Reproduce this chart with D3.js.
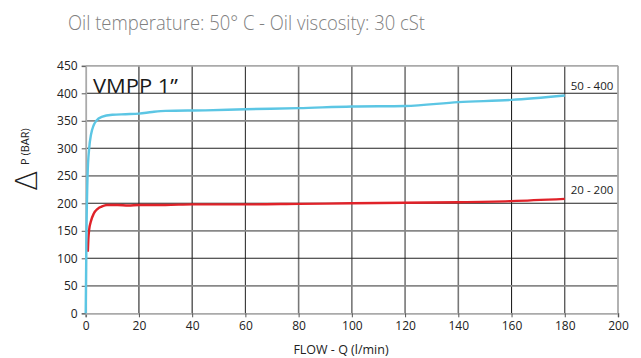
<!DOCTYPE html>
<html>
<head>
<meta charset="utf-8">
<script src="https://cdn.jsdelivr.net/npm/d3@7"></script>
<style>
  html, body { margin: 0; padding: 0; background: #fff; }
  svg { display: block; font-family: "Open Sans", "DejaVu Sans", sans-serif; }
</style>
</head>
<body>
<svg id="chart" width="641" height="358"></svg>
<script>
// Pressure drop vs flow, VMPP 1" relief valve
const xTicks = [0, 20, 40, 60, 80, 100, 120, 140, 160, 180, 200];
const yTicks = [0, 50, 100, 150, 200, 250, 300, 350, 400, 450];

// Spring range 50 - 400 bar
const flow400 = [0, 0.3, 0.7, 1.3, 2, 3, 4, 6, 10, 15, 20, 25, 30, 45, 60, 80, 100, 120, 140, 160, 180];
const dp400   = [0, 150, 250, 300, 325, 342, 350, 357, 361, 362, 363, 366, 368, 369, 371, 373, 376, 377, 384, 388, 396];

// Spring range 20 - 200 bar
const flow200 = [0.8, 1.0, 1.3, 2, 3, 4.5, 6, 8, 12, 16, 20, 30, 40, 60, 80, 100, 120, 140, 160, 180];
const dp200   = [112, 135, 152, 168, 181, 190, 194, 197, 197, 196, 197, 197, 198, 198, 199, 200, 201, 202, 204, 208];

const seriesLabels = ["50 - 400", "20 - 200"];

const svg = d3.select("#chart");
const plotLeft = 85.7, plotRight = 618, plotTop = 65.8, plotBottom = 313.3;

const x = d3.scaleLinear().domain([0, 200]).range([plotLeft, plotRight]);
const y = d3.scaleLinear().domain([0, 450]).range([plotBottom, plotTop]);

// Grid: alternating dark and grey rules as in the printed chart
const vColor = { 20: "#222", 40: "#222", 60: "#333", 80: "#777", 100: "#777", 120: "#777", 140: "#777", 160: "#222", 180: "#333" };
svg.append("g").selectAll("line")
  .data(xTicks.filter(d => d > 0 && d < 200))
  .join("line")
  .attr("x1", d => x(d)).attr("x2", d => x(d))
  .attr("y1", plotTop).attr("y2", plotBottom)
  .attr("stroke", d => vColor[d])
  .attr("stroke-width", d => vColor[d] === "#777" ? 1.6 : 1.1);

svg.append("g").selectAll("line")
  .data(yTicks.filter(d => d > 0 && d < 450))
  .join("line")
  .attr("x1", plotLeft).attr("x2", plotRight)
  .attr("y1", d => y(d)).attr("y2", d => y(d))
  .attr("stroke", d => d % 100 === 0 ? "#222" : "#888")
  .attr("stroke-width", d => d % 100 === 0 ? 1.1 : 1.8);

// Frame
svg.append("line").attr("x1", plotLeft).attr("x2", plotRight).attr("y1", plotTop).attr("y2", plotTop)
  .attr("stroke", "#aaa").attr("stroke-width", 1.8);
svg.append("line").attr("x1", plotRight).attr("x2", plotRight).attr("y1", plotTop).attr("y2", plotBottom)
  .attr("stroke", "#aaa").attr("stroke-width", 1.8);

// Axes
const xAxis = svg.append("g").attr("transform", `translate(0,${plotBottom})`)
  .call(d3.axisBottom(x).tickValues(xTicks).tickSize(4).tickPadding(4));
const yAxis = svg.append("g").attr("transform", `translate(${plotLeft},0)`)
  .call(d3.axisLeft(y).tickValues(yTicks).tickSize(4).tickPadding(4));
[xAxis, yAxis].forEach(a => {
  a.select(".domain").attr("stroke", "#aaa").attr("stroke-width", 1.8);
  a.selectAll(".tick line").attr("stroke", "#555");
  a.selectAll("text").attr("fill", "#222").attr("font-size", 12)
    .attr("font-family", "'Open Sans', sans-serif");
});

// Curves
const line = d3.line().x(d => x(d[0])).y(d => y(d[1])).curve(d3.curveMonotoneX);
svg.append("path").datum(d3.zip(flow200, dp200)).attr("d", line)
  .attr("fill", "none").attr("stroke", "#e02229").attr("stroke-width", 2.4);
svg.append("path").datum(d3.zip(flow400, dp400)).attr("d", line)
  .attr("fill", "none").attr("stroke", "#5cc6e4").attr("stroke-width", 2.4);

// Series labels at the curve ends
svg.append("text").attr("x", x(180) + 6).attr("y", y(dp400[dp400.length - 1]) - 6)
  .attr("font-size", 11.5).attr("fill", "#222").text(seriesLabels[0]);
svg.append("text").attr("x", x(180) + 6).attr("y", y(dp200[dp200.length - 1]) - 5)
  .attr("font-size", 11.5).attr("fill", "#222").text(seriesLabels[1]);

// Model name
svg.append("text").attr("x", 93).attr("y", 93).attr("font-size", 20)
  .attr("fill", "#1a1a1a")
  .attr("textLength", 85).attr("lengthAdjust", "spacingAndGlyphs")
  .text("VMPP 1”");

// Title
svg.append("text").attr("x", 68).attr("y", 30).attr("font-size", 20)
  .attr("font-weight", 300).attr("fill", "#808080")
  .attr("textLength", 357).attr("lengthAdjust", "spacingAndGlyphs")
  .text("Oil temperature: 50° C - Oil viscosity: 30 cSt");

// Axis titles
svg.append("text").attr("x", 341).attr("y", 354).attr("text-anchor", "middle")
  .attr("font-size", 12.5).attr("fill", "#222").text("FLOW - Q (l/min)");

const yTitle = svg.append("g").attr("transform", "translate(37,191) rotate(-90)");
yTitle.append("text").attr("x", 0).attr("y", 0).attr("font-size", 30)
  .attr("font-family", "'DejaVu Sans', sans-serif").attr("font-weight", 300)
  .attr("fill", "#222").text("Δ");
yTitle.append("text").attr("x", 26).attr("y", -8).attr("font-size", 11)
  .attr("fill", "#222").text("P (BAR)");
</script>
</body>
</html>
